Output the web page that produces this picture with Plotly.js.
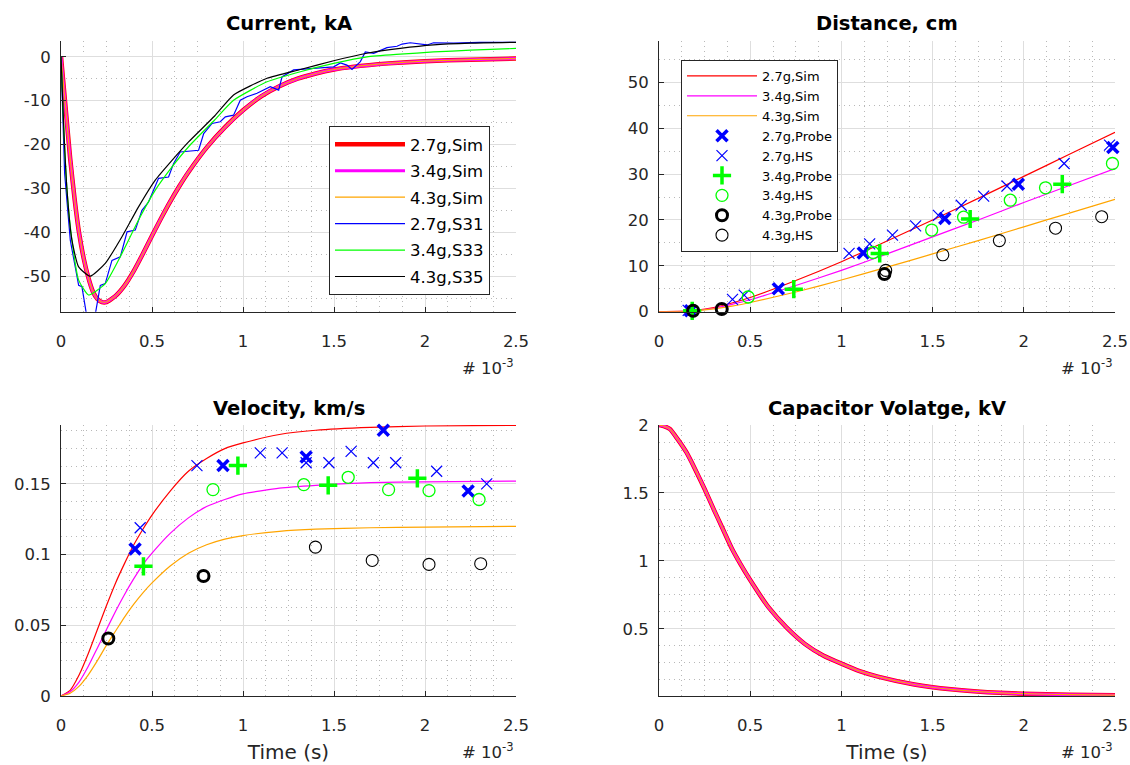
<!DOCTYPE html>
<html>
<head>
<meta charset="utf-8">
<script src="https://cdn.plot.ly/plotly-3.0.1.min.js"></script>
<style>
html, body { margin: 0; padding: 0; background: #ffffff; }
#chart { width: 1130px; height: 765px; }
</style>
</head>
<body>
<div id="chart"></div>
<script>
// ---------------- DATA (time in units of 1e-3 s) ----------------
// Current, kA (the three simulations overlap)
const curSimT = [0, 0.025, 0.05, 0.075, 0.1, 0.125, 0.15, 0.175, 0.2, 0.225, 0.25, 0.3, 0.35, 0.4, 0.45, 0.5, 0.55, 0.6, 0.65, 0.7, 0.8, 0.9, 1.0, 1.1, 1.2, 1.3, 1.4, 1.5, 1.6, 1.8, 2.0, 2.25, 2.5];
const curSimI = [0, -11.5, -23.0, -32.5, -40.3, -46.0, -50.3, -53.5, -55.2, -55.9, -55.9, -54.5, -52.1, -48.8, -44.9, -40.8, -36.8, -33.0, -29.5, -26.3, -20.7, -16.1, -12.2, -9.0, -6.7, -5.0, -3.8, -2.9, -2.3, -1.5, -1.0, -0.65, -0.4];

const curS31T = [0, 0.009, 0.02, 0.051, 0.082, 0.097, 0.115, 0.143, 0.185, 0.216, 0.243, 0.28, 0.326, 0.363, 0.408, 0.445, 0.481, 0.518, 0.536, 0.591, 0.619, 0.655, 0.756, 0.784, 0.83, 0.875, 0.903, 0.948, 0.985, 1.022, 1.077, 1.15, 1.196, 1.214, 1.278, 1.407, 1.498, 1.535, 1.571, 1.599, 1.645, 1.672, 1.718, 1.791, 1.846, 1.874, 1.919, 2.011, 2.047, 2.157, 2.3, 2.5];
const curS31I = [0, -11.4, -26.6, -41.8, -49.4, -52.1, -52.4, -59.5, -59.5, -52.1, -51.7, -46.4, -45.6, -39.9, -39.5, -35.0, -33.1, -29.6, -27.7, -27.4, -24.3, -21.7, -21.3, -17.5, -15.2, -14.8, -13.7, -13.3, -9.9, -9.1, -8.3, -6.8, -7.6, -4.6, -3.0, -2.6, -2.3, -1.4, -1.9, -2.9, -1.1, 1.1, 0.8, 2.1, 2.4, 2.9, 3.2, 2.7, 3.2, 3.1, 3.3, 3.3];

const curS33T = [0, 0.014, 0.033, 0.06, 0.097, 0.152, 0.243, 0.335, 0.426, 0.518, 0.61, 0.701, 0.844, 0.948, 1.132, 1.315, 1.498, 1.681, 1.864, 2.047, 2.25, 2.5];
const curS33I = [0, -15.2, -30.4, -41.8, -50.9, -54.3, -51.7, -44.8, -37.2, -30.4, -25.1, -20.5, -14.4, -9.9, -5.7, -3.4, -1.5, 0.0, 0.6, 1.1, 1.5, 1.9];

const curS35T = [0, 0.014, 0.033, 0.06, 0.097, 0.161, 0.243, 0.335, 0.426, 0.518, 0.61, 0.701, 0.844, 0.948, 1.132, 1.315, 1.498, 1.681, 1.864, 2.047, 2.25, 2.5];
const curS35I = [0, -15.2, -30.4, -41.8, -47.9, -50.0, -47.1, -41.0, -34.2, -28.1, -23.6, -19.4, -13.5, -8.7, -4.9, -2.9, -0.9, 0.8, 1.9, 2.7, 3.1, 3.3];

// Distance, cm
const distSimT = [0, 0.1, 0.2, 0.3, 0.4, 0.5, 0.75, 1.0, 1.25, 1.5, 1.75, 2.0, 2.25, 2.5];
const distSim27 = [0, 0.05, 0.3, 0.9, 1.9, 3.1, 6.8, 10.9, 15.4, 20.0, 24.7, 29.5, 34.3, 39.1];
const distSim34 = [0, 0.04, 0.25, 0.75, 1.6, 2.6, 5.7, 9.0, 12.6, 16.3, 20.0, 23.8, 27.5, 31.2];
const distSim43 = [0, 0.03, 0.2, 0.6, 1.2, 2.0, 4.3, 6.9, 9.7, 12.6, 15.5, 18.5, 21.5, 24.5];

const distProbe27T = [0.173, 0.654, 1.12, 1.567, 1.97, 2.488];
const distProbe27 = [0.2, 5.0, 12.8, 20.3, 27.8, 35.8];
const distHS27T = [0.16, 0.403, 0.467, 1.042, 1.155, 1.28, 1.407, 1.532, 1.657, 1.78, 1.908, 2.221, 2.47];
const distHS27 = [0.3, 2.7, 3.6, 12.7, 14.8, 16.7, 18.7, 21.0, 23.2, 25.2, 27.4, 32.3, 36.3];
const distProbe34T = [0.182, 0.739, 1.21, 1.706, 2.211];
const distProbe34 = [0.2, 4.9, 12.7, 20.2, 27.8];
const distHS34T = [0.489, 1.174, 1.495, 1.67, 1.926, 2.119, 2.486];
const distHS34 = [3.2, 12.9, 17.8, 20.6, 24.3, 27.0, 32.3];
const distProbe43T = [0.187, 0.344, 1.236];
const distProbe43 = [0.2, 0.6, 8.2];
const distHS43T = [1.243, 1.556, 1.866, 2.174, 2.427];
const distHS43 = [9.0, 12.4, 15.5, 18.2, 20.7];

// Velocity, km/s
const velSimT = [0, 0.05, 0.1, 0.15, 0.2, 0.25, 0.3, 0.35, 0.4, 0.45, 0.5, 0.6, 0.7, 0.8, 0.9, 1.0, 1.2, 1.4, 1.7, 2.0, 2.5];
const velSim27 = [0, 0.004, 0.015, 0.030, 0.047, 0.064, 0.080, 0.094, 0.107, 0.118, 0.128, 0.145, 0.159, 0.168, 0.175, 0.179, 0.185, 0.188, 0.190, 0.191, 0.1915];
const velSim34 = [0, 0.003, 0.010, 0.021, 0.034, 0.047, 0.060, 0.072, 0.083, 0.093, 0.101, 0.115, 0.126, 0.134, 0.139, 0.143, 0.147, 0.149, 0.151, 0.1515, 0.152];
const velSim43 = [0, 0.002, 0.007, 0.015, 0.025, 0.036, 0.046, 0.056, 0.065, 0.073, 0.080, 0.092, 0.101, 0.107, 0.111, 0.1135, 0.1165, 0.118, 0.119, 0.1195, 0.120];

const velProbe27T = [0.407, 0.89, 1.347, 1.771, 2.237];
const velProbe27 = [0.104, 0.163, 0.169, 0.188, 0.145];
const velHS27T = [0.435, 0.747, 1.095, 1.215, 1.347, 1.472, 1.594, 1.716, 1.839, 2.064, 2.339];
const velHS27 = [0.119, 0.163, 0.172, 0.172, 0.165, 0.165, 0.173, 0.165, 0.165, 0.159, 0.150];
const velProbe34T = [0.453, 0.972, 1.468, 1.958];
const velProbe34 = [0.0917, 0.163, 0.149, 0.154];
const velHS34T = [0.835, 1.334, 1.578, 1.80, 2.022, 2.297];
const velHS34 = [0.146, 0.1495, 0.1547, 0.146, 0.1453, 0.139];
const velProbe43T = [0.26, 0.783];
const velProbe43 = [0.0407, 0.0849];
const velHS43T = [1.398, 1.71, 2.022, 2.306];
const velHS43 = [0.1053, 0.0959, 0.0931, 0.0936];

// Capacitor voltage, kV (the three simulations overlap)
const voltSimT = [0, 0.03, 0.06, 0.1, 0.15, 0.2, 0.25, 0.3, 0.35, 0.4, 0.45, 0.5, 0.6, 0.7, 0.8, 0.9, 1.0, 1.1, 1.2, 1.4, 1.6, 1.8, 2.0, 2.25, 2.5];
const voltSim = [2.0, 1.99, 1.97, 1.90, 1.80, 1.67, 1.53, 1.38, 1.235, 1.09, 0.97, 0.86, 0.66, 0.51, 0.39, 0.305, 0.245, 0.19, 0.15, 0.092, 0.056, 0.035, 0.024, 0.017, 0.013];

// Tick labels
const xTicks = [0, 0.5, 1, 1.5, 2, 2.5];
const xTickText = ['0', '0.5', '1', '1.5', '2', '2.5'];
const curTicks = [-50, -40, -30, -20, -10, 0];
const curTickText = ['-50', '-40', '-30', '-20', '-10', '0'];
const distTicks = [0, 10, 20, 30, 40, 50];
const distTickText = ['0', '10', '20', '30', '40', '50'];
const velTicks = [0, 0.05, 0.1, 0.15];
const velTickText = ['0', '0.05', '0.1', '0.15'];
const voltTicks = [0.5, 1, 1.5, 2];
const voltTickText = ['0.5', '1', '1.5', '2'];

// ---------------- STYLE ----------------
const FONT = 'DejaVu Sans, Verdana, sans-serif';
const RED = '#ff0000', MAG = '#ff00ff', ORA = '#ffa500', BLUE = '#0000ff', GREEN = '#00ff00', BLACK = '#000000';
const W = 1130, H = 765;
const px = v => v / W;
const py = v => 1 - v / H;

const traces = [];
function line(x, y, color, width, name, xa, ya, opts) {
  return Object.assign({
    type: 'scatter', mode: 'lines', x: x, y: y, name: name,
    xaxis: xa, yaxis: ya,
    line: { color: color, width: width, shape: 'spline', smoothing: 0.5 },
    showlegend: false, hoverinfo: 'skip'
  }, opts || {});
}
function mark(x, y, symbol, size, color, lw, name, xa, ya, opts) {
  return Object.assign({
    type: 'scatter', mode: 'markers', x: x, y: y, name: name,
    xaxis: xa, yaxis: ya, cliponaxis: false,
    marker: { symbol: symbol, size: size, color: color, line: { color: color, width: lw } },
    showlegend: false, hoverinfo: 'skip'
  }, opts || {});
}

// Current subplot (legend 1)
traces.push(line(curSimT, curSimI, RED, 4.5, '2.7g,Sim', 'x', 'y', { showlegend: true, legend: 'legend', legendgroup: 'c1' }));
traces.push(line(curSimT, curSimI, MAG, 3, '3.4g,Sim', 'x', 'y', { showlegend: true, legend: 'legend', legendgroup: 'c2' }));
traces.push(line(curSimT, curSimI, ORA, 1.2, '4.3g,Sim', 'x', 'y', { showlegend: true, legend: 'legend', legendgroup: 'c3' }));
traces.push(line(curS31T, curS31I, BLUE, 1.2, '2.7g,S31', 'x', 'y', { showlegend: true, legend: 'legend', legendgroup: 'c4', line: { color: BLUE, width: 1.2, shape: 'linear' } }));
traces.push(line(curS33T, curS33I, GREEN, 1.2, '3.4g,S33', 'x', 'y', { showlegend: true, legend: 'legend', legendgroup: 'c5' }));
traces.push(line(curS35T, curS35I, BLACK, 1.2, '4.3g,S35', 'x', 'y', { showlegend: true, legend: 'legend', legendgroup: 'c6' }));

// Distance subplot (legend 2)
traces.push(line(distSimT, distSim27, RED, 1.2, '2.7g,Sim', 'x2', 'y2', { showlegend: true, legend: 'legend2' }));
traces.push(line(distSimT, distSim34, MAG, 1.2, '3.4g,Sim', 'x2', 'y2', { showlegend: true, legend: 'legend2' }));
traces.push(line(distSimT, distSim43, ORA, 1.2, '4.3g,Sim', 'x2', 'y2', { showlegend: true, legend: 'legend2' }));
traces.push(mark(distProbe27T, distProbe27, 'x-thin', 11, BLUE, 3.5, '2.7g,Probe', 'x2', 'y2', { showlegend: true, legend: 'legend2' }));
traces.push(mark(distHS27T, distHS27, 'x-thin', 11, BLUE, 1.2, '2.7g,HS', 'x2', 'y2', { showlegend: true, legend: 'legend2' }));
traces.push(mark(distProbe34T, distProbe34, 'cross-thin', 13, GREEN, 3.5, '3.4g,Probe', 'x2', 'y2', { showlegend: true, legend: 'legend2' }));
traces.push(mark(distHS34T, distHS34, 'circle-open', 12, GREEN, 1.3, '3.4g,HS', 'x2', 'y2', { showlegend: true, legend: 'legend2' }));
traces.push(mark(distProbe43T, distProbe43, 'circle-open', 11, BLACK, 3, '4.3g,Probe', 'x2', 'y2', { showlegend: true, legend: 'legend2' }));
traces.push(mark(distHS43T, distHS43, 'circle-open', 12, BLACK, 1.1, '4.3g,HS', 'x2', 'y2', { showlegend: true, legend: 'legend2' }));

// Velocity subplot
traces.push(line(velSimT, velSim27, RED, 1.2, '2.7g,Sim', 'x3', 'y3'));
traces.push(line(velSimT, velSim34, MAG, 1.2, '3.4g,Sim', 'x3', 'y3'));
traces.push(line(velSimT, velSim43, ORA, 1.2, '4.3g,Sim', 'x3', 'y3'));
traces.push(mark(velProbe27T, velProbe27, 'x-thin', 11, BLUE, 3.5, '2.7g,Probe', 'x3', 'y3'));
traces.push(mark(velHS27T, velHS27, 'x-thin', 11, BLUE, 1.2, '2.7g,HS', 'x3', 'y3'));
traces.push(mark(velProbe34T, velProbe34, 'cross-thin', 13, GREEN, 3.5, '3.4g,Probe', 'x3', 'y3'));
traces.push(mark(velHS34T, velHS34, 'circle-open', 12, GREEN, 1.3, '3.4g,HS', 'x3', 'y3'));
traces.push(mark(velProbe43T, velProbe43, 'circle-open', 11, BLACK, 3, '4.3g,Probe', 'x3', 'y3'));
traces.push(mark(velHS43T, velHS43, 'circle-open', 12, BLACK, 1.1, '4.3g,HS', 'x3', 'y3'));

// Capacitor voltage subplot
traces.push(line(voltSimT, voltSim, RED, 4.5, '2.7g,Sim', 'x4', 'y4'));
traces.push(line(voltSimT, voltSim, MAG, 3, '3.4g,Sim', 'x4', 'y4'));
traces.push(line(voltSimT, voltSim, ORA, 1.2, '4.3g,Sim', 'x4', 'y4'));

// ---------------- LAYOUT ----------------
const AX = '#262626';
function xAxis(domain, anchor) {
  return {
    domain: domain, anchor: anchor, range: [0, 2.5],
    tickmode: 'array', tickvals: xTicks, ticktext: xTickText,
    ticks: 'inside', ticklen: 5, tickwidth: 1, tickcolor: AX,
    showline: true, linecolor: AX, linewidth: 1, mirror: false,
    showgrid: true, gridcolor: '#dedede', gridwidth: 1, zeroline: false,
    tickfont: { family: FONT, size: 16.5, color: AX },
    ticklabelstandoff: 14,
    minor: { dtick: 0.125, showgrid: true, gridcolor: '#b8b8b8', griddash: '1px,4px', gridwidth: 1, ticks: '' },
    fixedrange: true
  };
}
function yAxis(domain, anchor, range, tv, tt, minorStep) {
  return {
    domain: domain, anchor: anchor, range: range,
    tickmode: 'array', tickvals: tv, ticktext: tt,
    ticks: 'inside', ticklen: 5, tickwidth: 1, tickcolor: AX,
    showline: true, linecolor: AX, linewidth: 1, mirror: false,
    showgrid: true, gridcolor: '#dedede', gridwidth: 1, zeroline: false,
    tickfont: { family: FONT, size: 16.5, color: AX },
    ticklabelstandoff: 6,
    minor: { dtick: minorStep, tick0: 0, showgrid: true, gridcolor: '#b8b8b8', griddash: '1px,4px', gridwidth: 1, ticks: '' },
    fixedrange: true
  };
}

const xL = [px(61), px(516)], xR = [px(659), px(1115)];
const yT = [py(311.7), py(41)], yB = [py(696), py(425)];

const titleFont = { family: FONT, size: 19.5, color: '#000000', weight: 700 };
const expFont = { family: FONT, size: 16.5, color: AX };
const axTitleFont = { family: FONT, size: 20, color: AX };

const layout = {
  width: W, height: H,
  margin: { l: 0, r: 0, t: 0, b: 0, pad: 0 },
  paper_bgcolor: '#ffffff', plot_bgcolor: '#ffffff',
  font: { family: FONT, color: AX },
  xaxis: xAxis(xL, 'y'),
  yaxis: yAxis(yT, 'x', [-58.1, 3.6], curTicks, curTickText, 5),
  xaxis2: xAxis(xR, 'y2'),
  yaxis2: yAxis(yT, 'x2', [0, 59], distTicks, distTickText, 5),
  xaxis3: Object.assign(xAxis(xL, 'y3'), { title: { text: 'Time (s)', font: axTitleFont, standoff: 11 } }),
  yaxis3: yAxis(yB, 'x3', [0, 0.1917], velTicks, velTickText, 0.0125),
  xaxis4: Object.assign(xAxis(xR, 'y4'), { title: { text: 'Time (s)', font: axTitleFont, standoff: 11 } }),
  yaxis4: yAxis(yB, 'x4', [0.0072, 2.0], voltTicks, voltTickText, 0.125),
  legend: {
    x: px(329), y: py(126), xanchor: 'left', yanchor: 'top',
    bgcolor: '#ffffff', bordercolor: AX, borderwidth: 1,
    font: { family: FONT, size: 16.5, color: '#000000' },
    itemwidth: 70, tracegroupgap: 2, itemclick: false, itemdoubleclick: false
  },
  legend2: {
    x: px(681), y: py(60), xanchor: 'left', yanchor: 'top',
    bgcolor: '#ffffff', bordercolor: AX, borderwidth: 1,
    font: { family: FONT, size: 13, color: '#000000' },
    itemwidth: 70, itemclick: false, itemdoubleclick: false
  },
  annotations: [
    { text: 'Current, kA', x: (px(61) + px(516)) / 2, y: py(23), xref: 'paper', yref: 'paper', xanchor: 'center', yanchor: 'middle', showarrow: false, font: titleFont },
    { text: 'Distance, cm', x: (px(659) + px(1115)) / 2, y: py(23), xref: 'paper', yref: 'paper', xanchor: 'center', yanchor: 'middle', showarrow: false, font: titleFont },
    { text: 'Velocity, km/s', x: (px(61) + px(516)) / 2, y: py(408), xref: 'paper', yref: 'paper', xanchor: 'center', yanchor: 'middle', showarrow: false, font: titleFont },
    { text: 'Capacitor Volatge, kV', x: (px(659) + px(1115)) / 2, y: py(408), xref: 'paper', yref: 'paper', xanchor: 'center', yanchor: 'middle', showarrow: false, font: titleFont },
    { text: '# 10<sup>-3</sup>', x: px(516), y: py(367), xref: 'paper', yref: 'paper', xanchor: 'right', yanchor: 'middle', showarrow: false, font: expFont },
    { text: '# 10<sup>-3</sup>', x: px(1115), y: py(367), xref: 'paper', yref: 'paper', xanchor: 'right', yanchor: 'middle', showarrow: false, font: expFont },
    { text: '# 10<sup>-3</sup>', x: px(516), y: py(751), xref: 'paper', yref: 'paper', xanchor: 'right', yanchor: 'middle', showarrow: false, font: expFont },
    { text: '# 10<sup>-3</sup>', x: px(1115), y: py(751), xref: 'paper', yref: 'paper', xanchor: 'right', yanchor: 'middle', showarrow: false, font: expFont }
  ]
};

Plotly.newPlot('chart', traces, layout, { displayModeBar: false, staticPlot: true });
</script>
</body>
</html>
